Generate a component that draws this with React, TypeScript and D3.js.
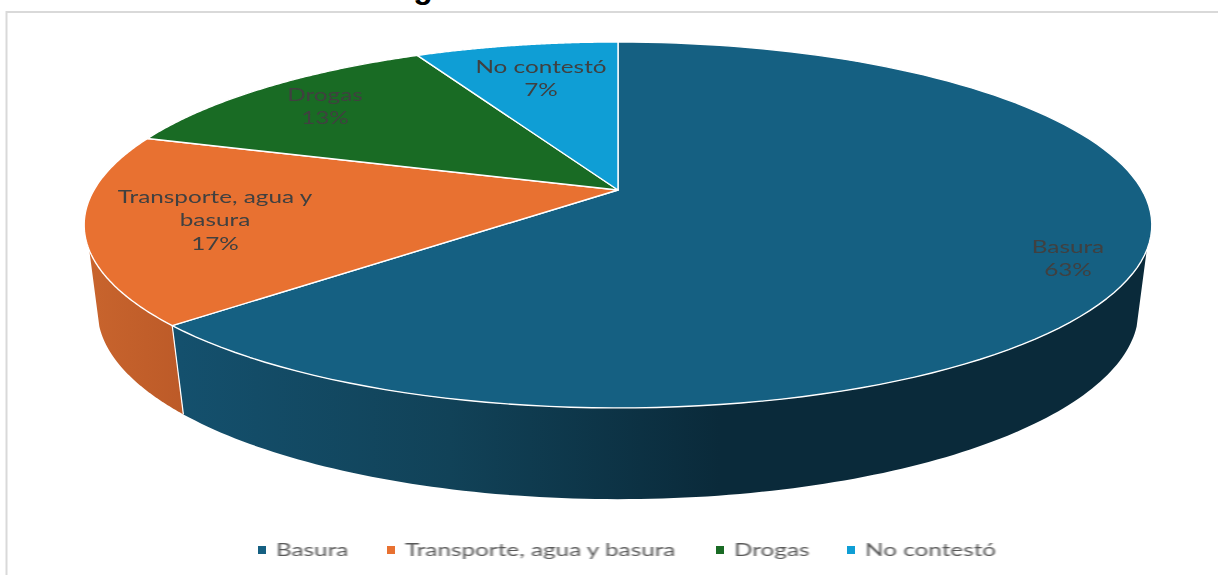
import React from "react";
import * as d3 from "d3";

const categories = ["Basura", "Transporte, agua y basura", "Drogas", "No contestó"];
const shares = [63.3, 16.7, 12.6, 7.4];
const colors = ["#156082", "#E87131", "#196B24", "#0F9ED5"];
const titleFragment = "g";

const W = 1218;
const H = 575;
const apexX = 618;
const apexY = 190;
const halfW = 524;
const halfH = 176.3;
const tilt = 0.191;
const rimScaleX = 0.975;
const rimScaleY = 1.03;
const rimDrop = 79;
const rad = (deg: number) => (deg * Math.PI) / 180;
const topStartR = rad(108.7);
const lowStartR = rad(105.7);
const topStartL = rad(251.3);
const lowStartL = rad(254.3);

type P = [number, number];
const proj = (t: number): P => {
  const u = Math.sin(t);
  const v = -Math.cos(t);
  const d = 1 - tilt * v;
  return [apexX + (halfW * u) / d, apexY + (halfH * v) / d];
};
const low = ([x, y]: P): P => [apexX + (x - apexX) * rimScaleX, y * rimScaleY + rimDrop];
const line = d3.line<P>();
const arcPts = (a: number, b: number, f: (p: P) => P = (p) => p): P[] =>
  d3.range(0, 121).map((i) => f(proj(a + ((b - a) * i) / 120)));

const pie = d3.pie<number>().sort(null).value((d) => d)(shares);

const slices = pie.map((s) => ({
  top: line([[apexX, apexY], ...arcPts(s.startAngle, s.endAngle)]) + "Z",
}));

const seam = pie[0].endAngle;
const sideBlue = line([...arcPts(topStartR, seam), ...arcPts(lowStartR, seam, low).reverse()]) + "Z";
const sideOrange = line([...arcPts(seam, topStartL), ...arcPts(seam, lowStartL, low).reverse()]) + "Z";

const labelPct = d3.format(".0%");
const labels = [
  { lines: ["Basura"], x: 1068, y: 253, pct: 0 },
  { lines: ["Transporte, agua y", "basura"], x: 215, y: 203, pct: 1 },
  { lines: ["Drogas"], x: 325, y: 101, pct: 2 },
  { lines: ["No contestó"], x: 541, y: 73, pct: 3 },
];

const legendX = [258, 387, 716, 847];
const font = "Lato, 'Open Sans', sans-serif";
const stretch = 1.35;

export default function App() {
  return (
    <svg
      width={W}
      height={H}
      style={{ position: "absolute", left: 0, top: 0, display: "block", background: "#fff" }}
    >
      <defs>
        <linearGradient id="sideBlue" gradientUnits="userSpaceOnUse" x1={180} x2={720} y1={0} y2={0}>
          <stop offset="0" stopColor="#14506D" />
          <stop offset="0.5" stopColor="#114258" />
          <stop offset="1" stopColor="#0A2A3A" />
        </linearGradient>
        <linearGradient id="sideOrange" gradientUnits="userSpaceOnUse" x1={90} x2={185} y1={0} y2={0}>
          <stop offset="0" stopColor="#C8642D" />
          <stop offset="1" stopColor="#BC5A28" />
        </linearGradient>
        <filter id="soft" x="-5%" y="-20%" width="110%" height="140%">
          <feGaussianBlur stdDeviation="0.6" />
        </filter>
      </defs>

      <text x={423} y={-2} fontFamily="Liberation Sans, Arial, sans-serif" fontWeight={700} fontSize={32} fill="#000" textAnchor="middle">
        {titleFragment}
      </text>
      <path d="M1218,12H6.5V575" fill="none" stroke="#D9D9D9" strokeWidth={2} />

      <path d={sideBlue} fill="url(#sideBlue)" />
      <path d={sideOrange} fill="url(#sideOrange)" />
      <path d={line([proj(seam), low(proj(seam))])!} stroke="#fff" strokeWidth={1.2} fill="none" />

      {slices.map((s, i) => (
        <path key={categories[i]} d={s.top} fill={colors[i]} stroke="#fff" strokeWidth={1.4} strokeLinejoin="round" />
      ))}

      <g fontFamily={font} fontSize={18} fill="#404040" textAnchor="middle" filter="url(#soft)">
        {labels.map((l) => (
          <text key={l.pct} transform={`translate(${l.x},0) scale(${stretch},1)`}>
            {l.lines.map((t, j) => (
              <tspan key={j} x={0} y={l.y + j * 23.5}>
                {t}
              </tspan>
            ))}
            <tspan x={0} y={l.y + l.lines.length * 23.5}>
              {labelPct(shares[l.pct] / 100)}
            </tspan>
          </text>
        ))}
      </g>

      <g fontFamily={font} fontSize={18} fill="#595959">
        {categories.map((c, i) => (
          <g key={c}>
            <rect x={legendX[i]} y={546} width={8} height={8} fill={colors[i]} />
            <text transform={`translate(${legendX[i] + 18},556) scale(${stretch},1)`} filter="url(#soft)">
              {c}
            </text>
          </g>
        ))}
      </g>
    </svg>
  );
}
